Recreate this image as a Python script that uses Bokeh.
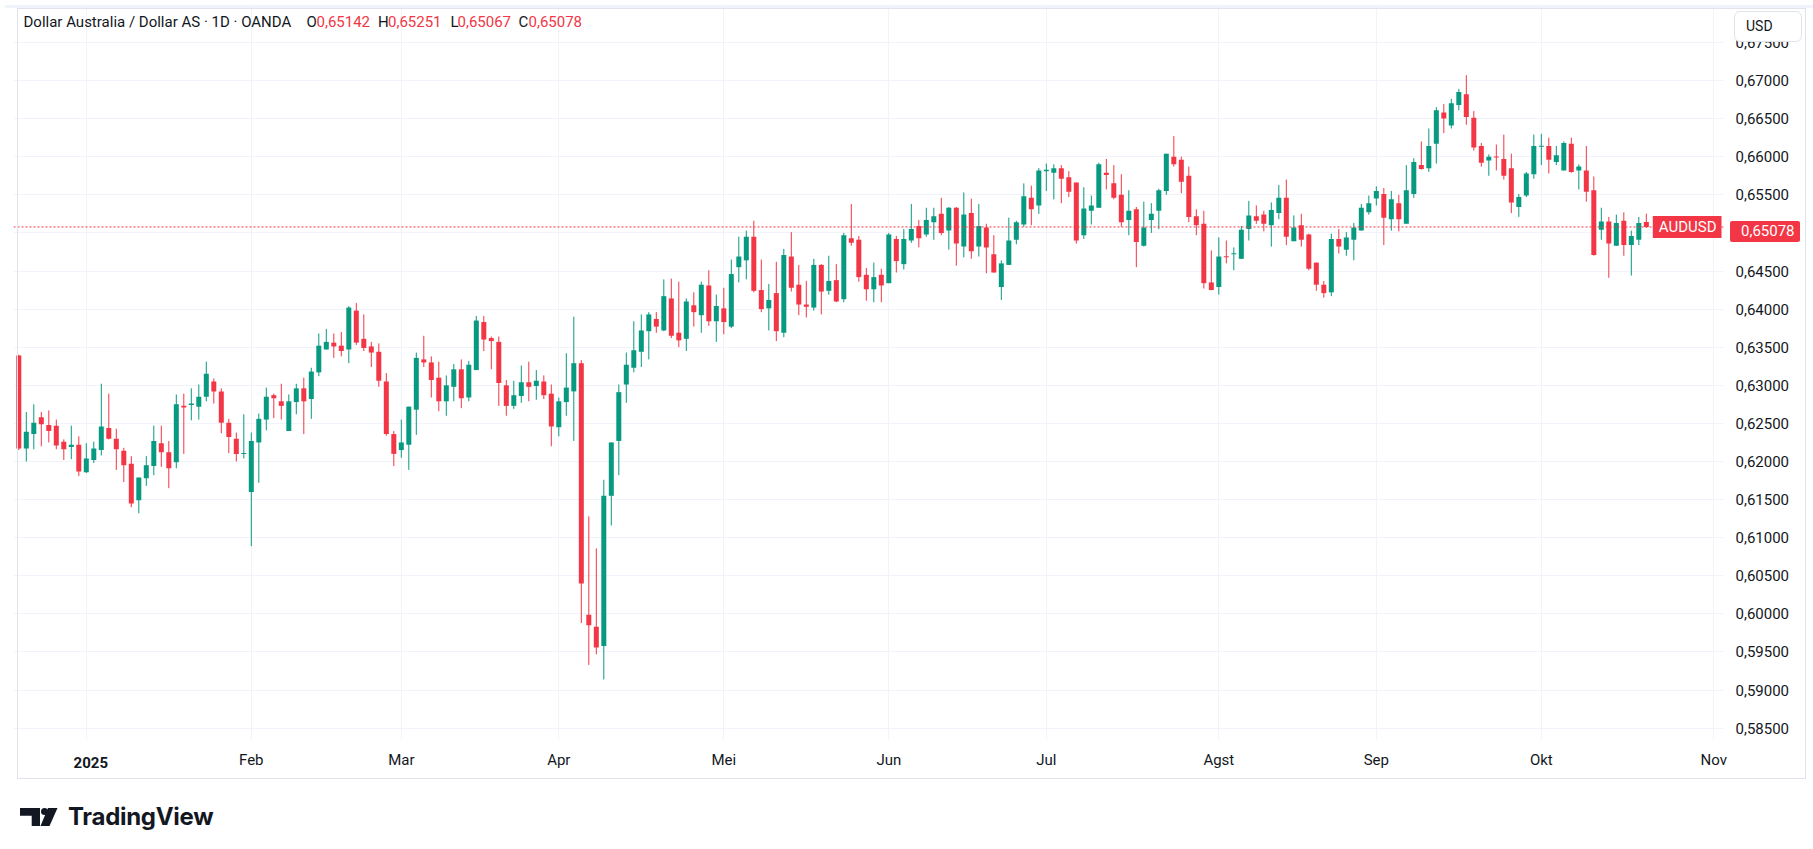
from bokeh.plotting import figure
from bokeh.models import (Range1d, FixedTicker, CustomJSTickFormatter, Span, Label,
                          Div, ColumnDataSource)
from bokeh.layouts import column
from bokeh.embed import file_html
from bokeh.resources import INLINE

# ---------------- data (AUDUSD daily, OANDA) ----------------
opens = [0.6339, 0.6217, 0.6236, 0.6258, 0.6248, 0.6247, 0.6226, 0.6219, 0.6222, 0.6186,
         0.6202, 0.6215, 0.6244, 0.6230, 0.6214, 0.6197, 0.6149, 0.6178, 0.6194, 0.6224,
         0.6212, 0.6199, 0.6273, 0.6274, 0.6272, 0.6285, 0.6305, 0.6292, 0.6251, 0.6230,
         0.6210, 0.6160, 0.6225, 0.6255, 0.6287, 0.6279, 0.6240, 0.6278, 0.6296, 0.6282,
         0.6317, 0.6347, 0.6356, 0.6352, 0.6347, 0.6398, 0.6361, 0.6351, 0.6344, 0.6305,
         0.6236, 0.6215, 0.6222, 0.6268, 0.6334, 0.6330, 0.6310, 0.6279, 0.6298, 0.6321,
         0.6284, 0.6320, 0.6383, 0.6362, 0.6357, 0.6300, 0.6273, 0.6286, 0.6304, 0.6299,
         0.6305, 0.6289, 0.6245, 0.6278, 0.6292, 0.6329, 0.5999, 0.5983, 0.5958, 0.6155,
         0.6227, 0.6301, 0.6323, 0.6344, 0.6371, 0.6387, 0.6372, 0.6414, 0.6369, 0.6361,
         0.6405, 0.6392, 0.6431, 0.6384, 0.6401, 0.6377, 0.6455, 0.6464, 0.6495, 0.6425,
         0.6401, 0.6421, 0.6369, 0.6469, 0.6432, 0.6406, 0.6402, 0.6458, 0.6424, 0.6438,
         0.6413, 0.6493, 0.6491, 0.6445, 0.6426, 0.6445, 0.6434, 0.6492, 0.6459, 0.6490,
         0.6509, 0.6498, 0.6514, 0.6525, 0.6503, 0.6533, 0.6482, 0.6526, 0.6482, 0.6507,
         0.6472, 0.6429, 0.6458, 0.6491, 0.6511, 0.6546, 0.6536, 0.6581, 0.6579, 0.6585,
         0.6573, 0.6566, 0.6497, 0.6529, 0.6533, 0.6579, 0.6565, 0.6550, 0.6517, 0.6531,
         0.6483, 0.6517, 0.6529, 0.6555, 0.6600, 0.6596, 0.6575, 0.6522, 0.6512, 0.6435,
         0.6429, 0.6469, 0.6472, 0.6466, 0.6505, 0.6522, 0.6524, 0.6510, 0.6526, 0.6546,
         0.6489, 0.6510, 0.6498, 0.6461, 0.6432, 0.6422, 0.6492, 0.6478, 0.6491, 0.6503,
         0.6527, 0.6545, 0.6551, 0.6518, 0.6539, 0.6512, 0.6551, 0.6589, 0.6585, 0.6617,
         0.6658, 0.6641, 0.6668, 0.6682, 0.6651, 0.6614, 0.6595, 0.6600, 0.6597, 0.6585,
         0.6534, 0.6549, 0.6577, 0.6613, 0.6614, 0.6593, 0.6582, 0.6617, 0.6582, 0.6582,
         0.6556, 0.6504, 0.6515, 0.6483, 0.6516, 0.6484, 0.6491, 0.65142]
highs = [0.6340, 0.6265, 0.6275, 0.6265, 0.6267, 0.6255, 0.6229, 0.6247, 0.6233, 0.6224,
         0.6226, 0.6302, 0.6289, 0.6243, 0.6218, 0.6207, 0.6179, 0.6207, 0.6247, 0.6247,
         0.6227, 0.6288, 0.6289, 0.6296, 0.6301, 0.6331, 0.6309, 0.6296, 0.6256, 0.6238,
         0.6262, 0.6238, 0.6263, 0.6297, 0.6289, 0.6302, 0.6288, 0.6302, 0.6310, 0.6323,
         0.6368, 0.6374, 0.6368, 0.6370, 0.6404, 0.6408, 0.6393, 0.6357, 0.6355, 0.6316,
         0.6240, 0.6255, 0.6272, 0.6343, 0.6365, 0.6338, 0.6331, 0.6313, 0.6328, 0.6334,
         0.6332, 0.6391, 0.6391, 0.6364, 0.6364, 0.6307, 0.6306, 0.6326, 0.6331, 0.6320,
         0.6313, 0.6301, 0.6284, 0.6342, 0.6390, 0.6333, 0.6128, 0.6086, 0.6176, 0.6225,
         0.6301, 0.6343, 0.6384, 0.6393, 0.6396, 0.6396, 0.6439, 0.6440, 0.6436, 0.6414,
         0.6422, 0.6436, 0.6451, 0.6419, 0.6428, 0.6465, 0.6495, 0.6503, 0.6516, 0.6465,
         0.6433, 0.6462, 0.6479, 0.6501, 0.6458, 0.6437, 0.6466, 0.6459, 0.6470, 0.6459,
         0.6500, 0.6538, 0.6496, 0.6454, 0.6461, 0.6453, 0.6500, 0.6496, 0.6505, 0.6538,
         0.6517, 0.6533, 0.6533, 0.6546, 0.6534, 0.6534, 0.6553, 0.6545, 0.6538, 0.6512,
         0.6497, 0.6464, 0.6520, 0.6516, 0.6565, 0.6562, 0.6585, 0.6591, 0.6590, 0.6589,
         0.6581, 0.6566, 0.6560, 0.6549, 0.6592, 0.6597, 0.6589, 0.6577, 0.6556, 0.6534,
         0.6541, 0.6539, 0.6558, 0.6604, 0.6627, 0.6600, 0.6587, 0.6531, 0.6529, 0.6477,
         0.6494, 0.6490, 0.6481, 0.6509, 0.6542, 0.6536, 0.6529, 0.6540, 0.6563, 0.6570,
         0.6523, 0.6525, 0.6499, 0.6461, 0.6437, 0.6499, 0.6505, 0.6501, 0.6513, 0.6538,
         0.6549, 0.6561, 0.6559, 0.6555, 0.6550, 0.6589, 0.6598, 0.6620, 0.6637, 0.6665,
         0.6669, 0.6676, 0.6689, 0.6707, 0.6660, 0.6618, 0.6603, 0.6616, 0.6629, 0.6604,
         0.6551, 0.6580, 0.6629, 0.6630, 0.6625, 0.6614, 0.6620, 0.6625, 0.6590, 0.6614,
         0.6574, 0.6533, 0.6521, 0.6524, 0.6527, 0.6503, 0.6521, 0.65251]
lows = [0.6215, 0.6200, 0.6216, 0.6220, 0.6225, 0.6216, 0.6202, 0.6203, 0.6181, 0.6185,
        0.6198, 0.6208, 0.6229, 0.6189, 0.6173, 0.6140, 0.6132, 0.6168, 0.6182, 0.6193,
        0.6165, 0.6191, 0.6210, 0.6254, 0.6255, 0.6279, 0.6276, 0.6237, 0.6211, 0.6200,
        0.6204, 0.6089, 0.6172, 0.6241, 0.6257, 0.6255, 0.6240, 0.6262, 0.6236, 0.6256,
        0.6312, 0.6347, 0.6336, 0.6338, 0.6329, 0.6353, 0.6345, 0.6324, 0.6298, 0.6234,
        0.6194, 0.6205, 0.6189, 0.6235, 0.6324, 0.6284, 0.6266, 0.6260, 0.6279, 0.6270,
        0.6279, 0.6320, 0.6345, 0.6321, 0.6273, 0.6260, 0.6269, 0.6277, 0.6279, 0.6281,
        0.6282, 0.6220, 0.6233, 0.6260, 0.6227, 0.5988, 0.5933, 0.5947, 0.5914, 0.6116,
        0.6182, 0.6277, 0.6317, 0.6324, 0.6334, 0.6369, 0.6371, 0.6362, 0.6350, 0.6345,
        0.6377, 0.6369, 0.6378, 0.6357, 0.6367, 0.6375, 0.6435, 0.6439, 0.6422, 0.6396,
        0.6372, 0.6358, 0.6363, 0.6423, 0.6392, 0.6389, 0.6398, 0.6393, 0.6419, 0.6409,
        0.6409, 0.6483, 0.6436, 0.6411, 0.6409, 0.6409, 0.6434, 0.6448, 0.6452, 0.6487,
        0.6481, 0.6495, 0.6491, 0.6497, 0.6478, 0.6457, 0.6468, 0.6466, 0.6469, 0.6447,
        0.6448, 0.6412, 0.6458, 0.6485, 0.6508, 0.6510, 0.6525, 0.6555, 0.6544, 0.6539,
        0.6547, 0.6486, 0.6492, 0.6511, 0.6533, 0.6557, 0.6544, 0.6508, 0.6497, 0.6455,
        0.6482, 0.6500, 0.6505, 0.6550, 0.6587, 0.6552, 0.6514, 0.6497, 0.6427, 0.6425,
        0.6419, 0.6460, 0.6451, 0.6466, 0.6490, 0.6512, 0.6502, 0.6482, 0.6518, 0.6484,
        0.6489, 0.6482, 0.6451, 0.6424, 0.6415, 0.6417, 0.6473, 0.6470, 0.6464, 0.6503,
        0.6524, 0.6536, 0.6484, 0.6503, 0.6502, 0.6512, 0.6546, 0.6583, 0.6580, 0.6591,
        0.6631, 0.6637, 0.6661, 0.6642, 0.6608, 0.6587, 0.6575, 0.6582, 0.6570, 0.6526,
        0.6521, 0.6547, 0.6571, 0.6589, 0.6578, 0.6589, 0.6582, 0.6579, 0.6557, 0.6541,
        0.6470, 0.6491, 0.6441, 0.6483, 0.6470, 0.6444, 0.6484, 0.65067]
closes = [0.6217, 0.6239, 0.6251, 0.6249, 0.6240, 0.6221, 0.6216, 0.6222, 0.6187, 0.6204,
          0.6217, 0.6246, 0.6230, 0.6216, 0.6195, 0.6145, 0.6179, 0.6195, 0.6227, 0.6212,
          0.6191, 0.6275, 0.6271, 0.6276, 0.6285, 0.6315, 0.6292, 0.6251, 0.6232, 0.6210,
          0.6211, 0.6227, 0.6256, 0.6285, 0.6283, 0.6273, 0.6279, 0.6296, 0.6279, 0.6318,
          0.6352, 0.6357, 0.6351, 0.6345, 0.6402, 0.6356, 0.6349, 0.6343, 0.6306, 0.6236,
          0.6210, 0.6225, 0.6272, 0.6336, 0.6330, 0.6307, 0.6279, 0.6300, 0.6321, 0.6283,
          0.6327, 0.6385, 0.6360, 0.6358, 0.6303, 0.6273, 0.6287, 0.6304, 0.6298, 0.6306,
          0.6287, 0.6246, 0.6279, 0.6297, 0.6329, 0.6040, 0.5985, 0.5956, 0.6155, 0.6225,
          0.6291, 0.6327, 0.6346, 0.6372, 0.6393, 0.6377, 0.6417, 0.6365, 0.6359, 0.6410,
          0.6396, 0.6432, 0.6384, 0.6404, 0.6383, 0.6446, 0.6469, 0.6495, 0.6424, 0.6400,
          0.6412, 0.6371, 0.6471, 0.6428, 0.6406, 0.6403, 0.6458, 0.6423, 0.6437, 0.6410,
          0.6497, 0.6487, 0.6442, 0.6426, 0.6442, 0.6431, 0.6498, 0.6463, 0.6492, 0.6505,
          0.6493, 0.6517, 0.6522, 0.6500, 0.6533, 0.6486, 0.6524, 0.6476, 0.6509, 0.6481,
          0.6448, 0.6460, 0.6490, 0.6514, 0.6548, 0.6531, 0.6582, 0.6583, 0.6585, 0.6571,
          0.6554, 0.6490, 0.6532, 0.6536, 0.6590, 0.6576, 0.6546, 0.6514, 0.6529, 0.6488,
          0.6507, 0.6525, 0.6556, 0.6604, 0.6590, 0.6567, 0.6521, 0.6510, 0.6434, 0.6425,
          0.6469, 0.6468, 0.6472, 0.6504, 0.6523, 0.6516, 0.6512, 0.6530, 0.6546, 0.6495,
          0.6507, 0.6491, 0.6453, 0.6432, 0.6421, 0.6492, 0.6482, 0.6494, 0.6507, 0.6533,
          0.6539, 0.6555, 0.6520, 0.6544, 0.6518, 0.6556, 0.6593, 0.6584, 0.6614, 0.6661,
          0.6650, 0.6670, 0.6685, 0.6652, 0.6612, 0.6592, 0.6600, 0.6599, 0.6575, 0.6540,
          0.6547, 0.6578, 0.6614, 0.6614, 0.6596, 0.6602, 0.6618, 0.6580, 0.6587, 0.6554,
          0.6471, 0.6515, 0.6486, 0.6513, 0.6484, 0.6496, 0.6513, 0.65078]

month_ticks = [9, 31, 51, 72, 94, 116, 137, 160, 181, 203, 226]
month_labels = ["2025", "Feb", "Mar", "Apr", "Mei", "Jun", "Jul", "Agst", "Sep", "Okt", "Nov"]
price_ticks = [0.585, 0.590, 0.595, 0.600, 0.605, 0.610, 0.615, 0.620, 0.625, 0.630,
               0.635, 0.640, 0.645, 0.650, 0.655, 0.660, 0.665, 0.670, 0.675]
symbol = "AUDUSD"
currency = "USD"
title_text = "Dollar Australia / Dollar AS \u00b7 1D \u00b7 OANDA"

# ---------------- styling / layout ----------------
UP = "#089981"
DOWN = "#f23645"
TXT = "#131722"
GRID = "#f0f3fa"
FONT = "Roboto"

B_LEFT, B_TOP, B_RIGHT, B_BOTTOM = 13, 4, 78, 35
FRAME_W, FRAME_H = 1710, 735
FIG_W, FIG_H = B_LEFT + FRAME_W + B_RIGHT, B_TOP + FRAME_H + B_BOTTOM
x_start, x_end = -0.7067, 227.29
y_start, y_end = 0.583517, 0.679974
x_per_px = (x_end - x_start) / FRAME_W
y_per_px = (y_end - y_start) / FRAME_H


def sx(v):
    return B_LEFT + (v - x_start) / x_per_px


def sy(v):
    return B_TOP + (y_end - v) / y_per_px


n = len(closes)
xs = list(range(n))
colors = [UP if c >= o else DOWN for o, c in zip(opens, closes)]
tops, bottoms = [], []
for o, c in zip(opens, closes):
    lo_, hi_ = min(o, c), max(o, c)
    if hi_ - lo_ < y_per_px:
        hi_ = lo_ + y_per_px
    tops.append(hi_)
    bottoms.append(lo_)

src = ColumnDataSource(dict(x=xs, open=opens, high=highs, low=lows, close=closes,
                            top=tops, bottom=bottoms, color=colors))

p = figure(width=FIG_W, height=FIG_H,
           x_range=Range1d(x_start, x_end), y_range=Range1d(y_start, y_end),
           y_axis_location="right", toolbar_location=None, output_backend="svg",
           min_border_left=B_LEFT, min_border_right=B_RIGHT, min_border_top=B_TOP,
           min_border_bottom=B_BOTTOM,
           background_fill_color="white", border_fill_color="white")
p.outline_line_color = None

# grid
p.xgrid.ticker = FixedTicker(ticks=month_ticks)
p.xgrid.grid_line_color = GRID
p.ygrid.grid_line_color = GRID

# axes
p.xaxis.ticker = FixedTicker(ticks=month_ticks)
p.xaxis.major_label_overrides = {t: ("" if lab == "2025" else lab)
                                 for t, lab in zip(month_ticks, month_labels)}
p.yaxis.ticker = FixedTicker(ticks=price_ticks)
p.yaxis.formatter = CustomJSTickFormatter(code="return tick.toFixed(5).replace('.', ',');")
for ax in (p.xaxis[0], p.yaxis[0]):
    ax.axis_line_color = None
    ax.major_tick_line_color = None
    ax.minor_tick_line_color = None
    ax.major_tick_out = 0
    ax.major_tick_in = 0
    ax.minor_tick_out = 0
    ax.major_label_text_font = FONT
    ax.major_label_text_font_size = "15px"
    ax.major_label_text_color = TXT
p.xaxis.major_label_standoff = 11
p.yaxis.major_label_standoff = 12

# candles
p.segment(x0="x", y0="low", x1="x", y1="high", line_color="color", line_width=1, source=src)
p.vbar(x="x", width=0.667, top="top", bottom="bottom", fill_color="color",
       line_color=None, source=src)

# last price line and symbol tag
last = closes[-1]
last_txt = f"{last:.5f}".replace(".", ",")
p.add_layout(Span(location=last, dimension="width", line_color=DOWN, line_width=1,
                  line_dash="2 2"))
p.add_layout(Label(x=x_end, y=last, text=symbol, text_align="right", text_baseline="middle",
                   text_font=FONT, text_font_size="15px", text_color="white",
                   background_fill_color=DOWN, x_offset=-2,
                   padding=dict(left=6, right=5, top=2, bottom=2)))

# legend / title row
ohlc = [("O", opens[-1]), ("H", highs[-1]), ("L", lows[-1]), ("C", closes[-1])]
title_y = y_end - 17 * y_per_px
p.add_layout(Label(x=x_start, y=title_y, text=title_text, x_offset=10, text_baseline="middle",
                   text_font=FONT, text_font_size="15px", text_color=TXT))
letter_pos = [293, 364.5, 437, 505]
value_pos = [303, 374.5, 444, 515]
for (letter, val), lo, vo in zip(ohlc, letter_pos, value_pos):
    p.add_layout(Label(x=x_start, y=title_y, text=letter, x_offset=lo, text_baseline="middle",
                       text_font=FONT, text_font_size="15px", text_color=TXT))
    p.add_layout(Label(x=x_start, y=title_y, text=f"{val:.5f}".replace(".", ","),
                       x_offset=vo, text_baseline="middle",
                       text_font=FONT, text_font_size="15px", text_color=DOWN))

# ---------------- HTML strip below the chart (logo + overlays on the axis areas) ----------------
year_x = [sx(t) for t, lab in zip(month_ticks, month_labels) if lab == "2025"][0]
tag_cy = sy(last)
ov = []
# top band and panel border
ov.append(f'<div style="position:absolute;z-index:90;left:0px;top:{-FIG_H}px;width:1813px;'
          f'height:3px;background:#f0f3fa"></div>')
ov.append(f'<div style="position:absolute;z-index:90;left:12px;top:{3 - FIG_H}px;'
          f'width:{FIG_W - 12}px;height:{FIG_H - 3}px;box-sizing:border-box;'
          f'border:1px solid #e0e3eb;pointer-events:none"></div>')
ov.append(f'<div style="position:absolute;z-index:100;left:{FRAME_W + B_LEFT + 2}px;'
          f'top:{tag_cy - 10.5 - FIG_H:.1f}px;width:70px;height:21px;box-sizing:border-box;'
          f'padding-left:11px;background:{DOWN};color:#fff;font:15px Roboto;line-height:21px;'
          f'border-radius:2px;white-space:nowrap">{last_txt}</div>')
ov.append(f'<div style="position:absolute;z-index:100;left:{FRAME_W + B_LEFT + 6}px;'
          f'top:{6 - FIG_H}px;width:68px;height:31px;box-sizing:border-box;padding-left:11px;'
          f'background:#fff;border:1px solid #e0e3eb;border-radius:6px;color:{TXT};'
          f'font:14px Roboto;line-height:29px">{currency}</div>')
ov.append(f'<div style="position:absolute;z-index:100;left:{year_x - 30:.1f}px;'
          f'top:{758 - 9 - FIG_H}px;width:60px;text-align:center;color:{TXT};'
          f'font:bold 15px Roboto;line-height:18px">2025</div>')
logo_svg = ('<svg width="38" height="18" viewBox="0 0 38 18">'
            '<path d="M0 0H20V18H11.7V7.7H0Z" fill="#131722"/>'
            '<circle cx="24.5" cy="3.6" r="3.5" fill="#131722"/>'
            '<path d="M28 0H37.5L29.5 18H20.5Z" fill="#131722"/></svg>')
ov.append('<div style="position:absolute;left:15px;top:21px;display:flex;align-items:center;'
          'font-family:Inter,sans-serif;font-weight:700;font-size:24px;letter-spacing:-0.3px;'
          'color:#131722">' + logo_svg +
          '<span style="margin-left:10px">TradingView</span></div>')
strip = Div(text=('<div style="position:relative;width:%dpx;height:60px;overflow:visible">'
                  % FIG_W) + "".join(ov) + '</div>',
            width=FIG_W, height=60, styles={"overflow": "visible", "z-index": "100"})

layout = column(p, strip)
open("out.html", "w").write(file_html(layout, INLINE))
